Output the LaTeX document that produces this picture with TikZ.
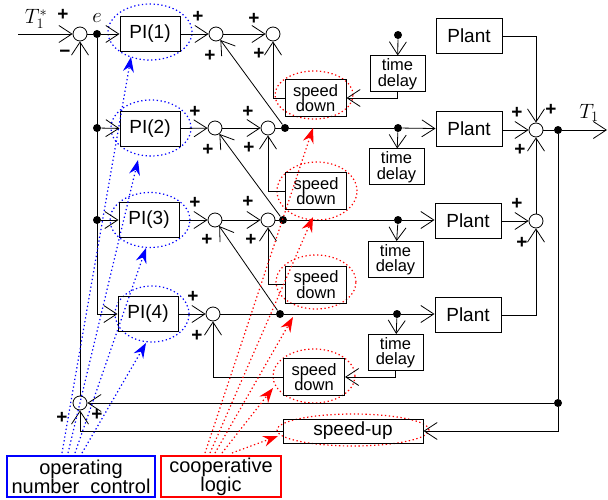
\documentclass[tikz,border=0pt]{standalone}
\usepackage{fontspec}
\setmainfont{Liberation Sans}
\usetikzlibrary{arrows.meta,shapes.geometric}
\begin{document}
\begin{tikzpicture}[x=1pt,y=-1pt,
  >={Straight Barb[length=13pt,width=17pt]},
  line width=0.8pt,
  blk/.style={draw, line width=1pt, minimum width=60pt, minimum height=35pt, inner sep=0pt, font=\fontsize{19}{19}\selectfont},
  plantbox/.style={blk, minimum width=66pt},
  tdbox/.style={draw, line width=1pt, minimum width=55pt, minimum height=36pt, inner sep=0pt, align=center, font=\fontsize{16.5}{15.5}\selectfont},
  sdbox/.style={tdbox, minimum width=61pt, minimum height=37pt},
  sumj/.style={circle, draw, minimum size=14pt, inner sep=0pt, fill=white},
  dotn/.style={circle, fill, minimum size=8pt, inner sep=0pt},
  pl/.style={font=\fontsize{19}{19}\selectfont\bfseries, inner sep=0pt},
  mlab/.style={font=\huge, inner sep=0pt},
  bell/.style={ellipse, draw=blue, line width=1.2pt, dash pattern=on 1.3pt off 2.6pt},
  rell/.style={ellipse, draw=red, line width=1.2pt, dash pattern=on 1.3pt off 2.6pt},
  bline/.style={blue, line width=1.2pt, dash pattern=on 1.3pt off 2.6pt, -{Stealth[length=15pt,width=11pt,inset=5pt]}},
  rline/.style={red, line width=1.2pt, dash pattern=on 1.3pt off 2.6pt, -{Stealth[length=15pt,width=11pt,inset=5pt]}},
  lblbox/.style={draw, line width=1.2pt, minimum height=41pt, inner sep=0pt, align=center, font=\fontsize{20}{19}\selectfont}
]
\useasboundingbox (0,0) rectangle (608,500);

% ellipses (behind)
\node[bell, minimum width=84pt, minimum height=56pt] (be1) at (150,32) {};
\node[bell, minimum width=80pt, minimum height=56pt] (be2) at (151,128) {};
\node[bell, minimum width=80pt, minimum height=55pt] (be3) at (150,220) {};
\node[bell, minimum width=74pt, minimum height=56pt] (be4) at (152,314) {};
\node[rell, minimum width=78pt, minimum height=48pt] (re1) at (314,95) {};
\node[rell, minimum width=80pt, minimum height=58pt] (re2) at (317,191) {};
\node[rell, minimum width=80pt, minimum height=54pt] (re3) at (316,282) {};
\node[rell, minimum width=82pt, minimum height=54pt] (re4) at (314,376) {};
\node[rell, minimum width=152pt, minimum height=32pt] (re5) at (353,430) {};

% summing junctions
\node[sumj] (S0) at (80,34) {};
\node[sumj] (A1) at (216,34) {};
\node[sumj] (A2) at (215,128) {};
\node[sumj] (A3) at (215,220) {};
\node[sumj] (A4) at (213,314) {};
\node[sumj] (B1) at (273,34) {};
\node[sumj] (B2) at (268,128) {};
\node[sumj] (B3) at (268,220) {};
\node[sumj] (R1) at (536,130) {};
\node[sumj] (R2) at (536,221) {};
\node[sumj] (SB) at (80,403) {};

% blocks
\node[blk] (PI1) at (150,34) {PI(1)};
\node[blk] (PI2) at (150,129) {PI(2)};
\node[blk] (PI3) at (149,220) {PI(3)};
\node[blk] (PI4) at (148,314) {PI(4)};
\node[plantbox] (P1) at (469,36) {Plant};
\node[plantbox] (P2) at (469,129) {Plant};
\node[plantbox] (P3) at (468,221) {Plant};
\node[plantbox] (P4) at (468,315) {Plant};
\node[tdbox] (TD1) at (397.5,74) {time\\delay};
\node[tdbox] (TD2) at (396.5,167) {time\\delay};
\node[tdbox] (TD3) at (395.5,259.5) {time\\delay};
\node[tdbox] (TD4) at (395.5,352.5) {time\\delay};
\node[sdbox] (SD1) at (315.5,98) {speed\\down};
\node[sdbox] (SD2) at (316,191) {speed\\down};
\node[sdbox] (SD3) at (316,284.5) {speed\\down};
\node[sdbox] (SD4) at (314,377) {speed\\down};
\node[draw, line width=1pt, minimum width=140pt, minimum height=24pt, inner sep=0pt, font=\fontsize{19}{19}\selectfont] (SU) at (353,431) {speed-up};
\node[lblbox, draw=blue, minimum width=148pt] (OP) at (81,476.5) {operating\\number\ \ control};
\node[lblbox, draw=red, minimum width=120pt] (CO) at (221,476.5) {cooperative\\logic};

% dots
\node[dotn] (E1) at (97,34) {};
\node[dotn] (E2) at (97,128) {};
\node[dotn] (E3) at (97,220) {};
\node[dotn] (D2) at (285,128) {};
\node[dotn] (D3) at (283,220) {};
\node[dotn] (D4) at (280,314) {};
\node[dotn] (T1) at (398,35) {};
\node[dotn] (T2) at (398,128) {};
\node[dotn] (T3) at (398,220) {};
\node[dotn] (T4) at (397,314) {};
\node[dotn] (DO) at (558,130) {};
\node[dotn] (DF) at (558,403) {};
\coordinate (IN) at (18,34);
\coordinate (OUT) at (607,130);

% main paths
\draw[->] (IN) -- (S0);
\draw (S0) -- (E1);
\draw[->] (E1) -- (PI1);
\draw[->] (E1) |- (PI4.west);
\draw[->] (E2) -- (PI2);
\draw[->] (E3) -- (PI3);
\draw[->] (PI1) -- (A1);
\draw[->] (PI2) -- (A2);
\draw[->] (PI3) -- (A3);
\draw[->] (PI4) -- (A4);
\draw[->] (A1) -- (B1);
\draw[->] (A2) -- (B2);
\draw[->] (A3) -- (B3);
\draw (B2) -- (D2) -- (T2);
\draw[->] (T2) -- (P2);
\draw (B3) -- (D3) -- (T3);
\draw[->] (T3) -- (P3.west |- T3);
\draw (A4) -- (D4) -- (T4);
\draw[->] (T4) -- (P4.west |- T4);
\draw[->] (D2) -- (A1);
\draw[->] (D3) -- (A2);
\draw[->] (D4) -- (A3);
\draw[->] (T1) -- (TD1);
\draw[->] (T2) -- (TD2);
\draw[->] (T3) -- (TD3);
\draw[->] (T4) -- (TD4);
\draw[->] (TD1.south) |- (SD1.east);
\draw[->] (TD4.south) |- (SD4.east);
\draw[->] (SD1.west) -| (B1.south);
\draw[->] (SD2.west) -| (B2.south);
\draw[->] (SD3.west) -| (B3.south);
\draw[->] (SD4.west) -| (A4.south);
\draw[->] (P1.east) -| (R1.north);
\draw[->] (P2.east |- R1) -- (R1);
\draw[->] (P3.east |- R2) -- (R2);
\draw[->] (P4.east) -| (R2.south);
\draw[->] (R2) -- (R1);
\draw (R1) -- (DO);
\draw[->] (DO) -- (OUT);
\draw (DO) -- (DF);
\draw[->] (DF) -- (SB);
\draw[->] (DF) |- (SU.east);
\draw[->] (SU.west) -| (SB.south);
\draw[->] (SB) -- (S0);

% control lines
\coordinate (bt1) at (131,57);
\coordinate (bt2) at (138,160);
\coordinate (bt3) at (146,248);
\coordinate (bt4) at (146,343);
\draw[bline] (62,453) -- (bt1);
\draw[bline] (68,453) -- (bt2);
\draw[bline] (75,453) -- (bt3);
\draw[bline] (82,453) -- (bt4);
\coordinate (rt1) at (313,128);
\coordinate (rt2) at (313,217);
\coordinate (rt3) at (293,317);
\coordinate (rt4) at (273,388);
\coordinate (rt5) at (278,436);
\draw[rline] (205,453) -- (rt1);
\draw[rline] (210,453) -- (rt2);
\draw[rline] (215,453) -- (rt3);
\draw[rline] (222,453) -- (rt4);
\draw[rline] (232,453) -- (rt5);

% signs
\node[pl] at (63,15) {+};
\node[pl] at (65,54) {−};
\node[pl] at (198,17) {+};
\node[pl] at (210,56) {+};
\node[pl] at (254,19) {+};
\node[pl] at (259,54) {+};
\node[pl] at (195,112) {+};
\node[pl] at (208,150) {+};
\node[pl] at (248,112) {+};
\node[pl] at (249,148) {+};
\node[pl] at (195,203) {+};
\node[pl] at (207,240) {+};
\node[pl] at (248,202) {+};
\node[pl] at (251,240) {+};
\node[pl] at (193,297) {+};
\node[pl] at (197,336) {+};
\node[pl] at (517,113) {+};
\node[pl] at (551,110) {+};
\node[pl] at (520,150) {+};
\node[pl] at (517,204) {+};
\node[pl] at (522,243) {+};
\node[pl] at (62,418) {+};
\node[pl] at (97,415) {+};

% math labels
\node[mlab] (lT1s) at (36,19) {$T_1^*$};
\node[mlab] (le) at (97,18) {$e$};
\node[mlab] (lT1) at (589,113) {$T_1$};
\end{tikzpicture}
\end{document}
